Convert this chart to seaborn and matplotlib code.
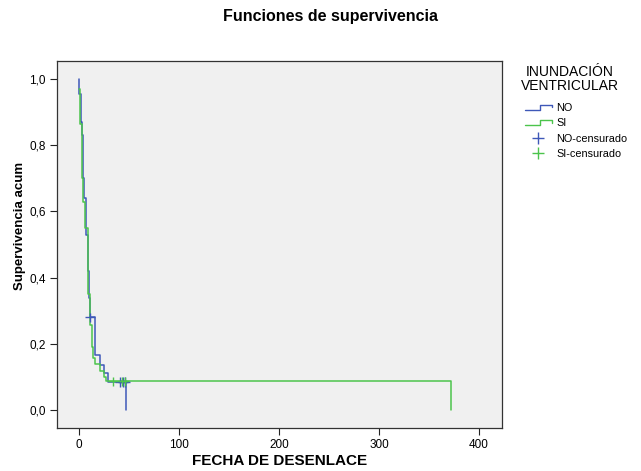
import numpy as np
import pandas as pd
import matplotlib
matplotlib.use("Agg")
import matplotlib.pyplot as plt
import seaborn as sns
from matplotlib.lines import Line2D
from matplotlib.legend_handler import HandlerLine2D

# Kaplan-Meier steps (time of drop, survival after drop)
no_t = [0, 0.4, 2.4, 3.4, 4.0, 5.0, 7.0, 9.0, 10.4, 11.0, 16.4, 21.0, 25.4, 28.7, 47.5]
no_s = [1.0, 0.955, 0.87, 0.83, 0.70, 0.64, 0.53, 0.42, 0.34, 0.28, 0.166, 0.136, 0.113, 0.085, 0.0]
no_cens = [11.0, 41.0, 44.0, 46.5]

si_t = [0, 1.4, 3.0, 4.5, 6.0, 8.8, 10.7, 13.0, 14.4, 16.0, 21.0, 25.4, 27.0, 372.4]
si_s = [0.97, 0.865, 0.70, 0.63, 0.55, 0.35, 0.257, 0.19, 0.157, 0.139, 0.119, 0.10, 0.087, 0.0]
si_cens = [34.0, 43.4, 45.7]

x_ticks = [0, 100, 200, 300, 400]
y_ticks = [0.0, 0.2, 0.4, 0.6, 0.8, 1.0]
y_labels = ["0,0", "0,2", "0,4", "0,6", "0,8", "1,0"]

colors = {"NO": "#3e58b8", "SI": "#4cc44c"}

sns.set_style("white")
plt.rcParams["font.family"] = ["Liberation Sans", "DejaVu Sans"]
plt.rcParams["text.color"] = "black"
plt.rcParams["axes.labelcolor"] = "black"
plt.rcParams["xtick.color"] = "black"
plt.rcParams["ytick.color"] = "black"

curves = pd.concat([
    pd.DataFrame({"t": no_t, "s": no_s, "grupo": "NO"}),
    pd.DataFrame({"t": si_t, "s": si_s, "grupo": "SI"}),
])


def surv_at(times, surv, pts):
    idx = np.searchsorted(times, pts, side="right") - 1
    return [surv[i] for i in idx]


cens = pd.concat([
    pd.DataFrame({"t": no_cens, "s": surv_at(no_t, no_s, no_cens), "grupo": "NO"}),
    pd.DataFrame({"t": si_cens, "s": surv_at(si_t, si_s, si_cens), "grupo": "SI"}),
])

fig = plt.figure(figsize=(6.41, 4.71), dpi=100)
ax = fig.add_axes([0.0889, 0.0906, 0.6942, 0.7809])
ax.set_facecolor("#f0f0f0")

sns.lineplot(data=curves, x="t", y="s", hue="grupo", palette=colors,
             estimator=None, sort=False, drawstyle="steps-post",
             linewidth=1.1, legend=False, ax=ax)
sns.scatterplot(data=cens, x="t", y="s", hue="grupo", palette=colors,
                marker="+", s=45, linewidth=1.0, legend=False, ax=ax, zorder=3)

ax.set_xlim(-22, 423)
ax.set_ylim(-0.055, 1.056)
ax.set_xticks(x_ticks)
ax.set_xticklabels([str(v) for v in x_ticks], fontsize=8.5)
ax.set_yticks(y_ticks)
ax.set_yticklabels(y_labels, fontsize=8.5)
ax.tick_params(direction="out", length=5, width=0.8, color="#222222", pad=3,
               bottom=True, left=True)
for sp in ax.spines.values():
    sp.set_color("#333333")
    sp.set_linewidth(0.9)

ax.set_xlabel("FECHA DE DESENLACE", fontsize=11, fontweight="bold", labelpad=2)
ax.set_ylabel("Supervivencia acum", fontsize=9.5, fontweight="bold")
ax.yaxis.set_label_coords(-0.07, 0.55)
fig.text(0.515, 0.964, "Funciones de supervivencia", ha="center", va="center",
         fontsize=11.5, fontweight="bold")

# legend title drawn as its own text so the gap matches the reference
fig.text(0.889, 0.833, "INUNDACIÓN\nVENTRICULAR", ha="center", va="center",
         fontsize=10, linespacing=1.0, multialignment="center")


class StepHandler(HandlerLine2D):
    def create_artists(self, legend, orig_handle, xdescent, ydescent,
                       width, height, fontsize, trans):
        x0 = -xdescent
        y0 = -ydescent
        xs = [x0, x0 + width * 0.55, x0 + width * 0.55, x0 + width, x0 + width]
        ys = [y0 + height * 0.1, y0 + height * 0.1, y0 + height * 0.8,
              y0 + height * 0.8, y0 + height * 0.45]
        line = Line2D(xs, ys, color=orig_handle.get_color(), linewidth=1.0)
        line.set_transform(trans)
        return [line]


handles = [
    Line2D([], [], color=colors["NO"]),
    Line2D([], [], color=colors["SI"]),
    Line2D([], [], color=colors["NO"], marker="+", linestyle="none", markersize=9),
    Line2D([], [], color=colors["SI"], marker="+", linestyle="none", markersize=9),
]
labels = ["NO", "SI", "NO-censurado", "SI-censurado"]
leg = fig.legend(handles, labels, loc="upper left", bbox_to_anchor=(0.807, 0.798),
                 frameon=False, fontsize=7.8, handlelength=2.5, handletextpad=0.4,
                 labelspacing=0.5, borderpad=0.2,
                 handler_map={handles[0]: StepHandler(), handles[1]: StepHandler()})

fig.savefig("out.png", dpi=100)
